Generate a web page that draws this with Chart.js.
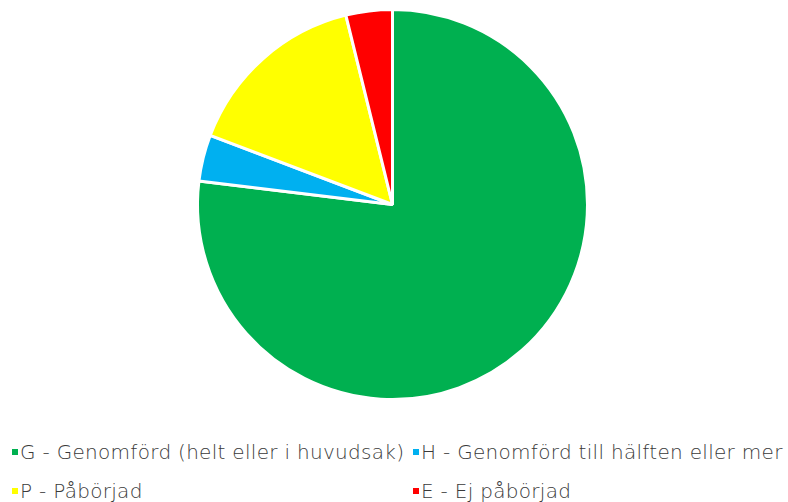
<!DOCTYPE html>
<html>
<head>
<meta charset="utf-8">
<script src="https://cdn.jsdelivr.net/npm/chart.js@4"></script>
<style>
  html, body { margin: 0; padding: 0; background: #fff; }
  #wrap { position: relative; width: 788px; height: 502px; }
  #chartBox { position: absolute; left: 0; top: 0; width: 785px; height: 413px; }
  #legend { position: absolute; left: 12px; top: 441px; display: grid;
            grid-template-columns: 401px 380px; row-gap: 17px;
            font-family: "DejaVu Sans", sans-serif; font-weight: 200;
            font-size: 20px; letter-spacing: 0.3px; color: #3a3a3a; }
  .item { display: flex; align-items: center; white-space: nowrap; height: 22px; }
  .box { width: 6px; height: 6px; margin-right: 2px; }
</style>
</head>
<body>
<div id="wrap">
  <div id="chartBox"><canvas id="pie"></canvas></div>
  <div id="legend"></div>
</div>
<script>
const labels = [
    'G - Genomförd (helt eller i huvudsak)',
    'H - Genomförd till hälften eller mer',
    'P - Påbörjad',
    'E - Ej påbörjad'
];
const counts = [20, 1, 4, 1];
const colors = ['#00B050', '#00B0F0', '#FFFF00', '#FF0000'];

// legend in two columns, like the original
const legendEl = document.getElementById('legend');
labels.forEach((label, i) => {
    const item = document.createElement('div');
    item.className = 'item';
    item.innerHTML = `<span class="box" style="background:${colors[i]}"></span><span>${label}</span>`;
    legendEl.appendChild(item);
});

const ctx = document.getElementById('pie').getContext('2d');
new Chart(ctx, {
    type: 'pie',
    data: {
        labels: labels,
        datasets: [{
            data: counts,
            backgroundColor: colors,
            borderColor: '#ffffff',
            borderWidth: 3
        }]
    },
    options: {
        responsive: true,
        maintainAspectRatio: false,
        animation: false,
        layout: { padding: { top: 8, bottom: 12 } },
        plugins: {
            legend: { display: false },
            tooltip: { enabled: false }
        }
    }
});
</script>
</body>
</html>
